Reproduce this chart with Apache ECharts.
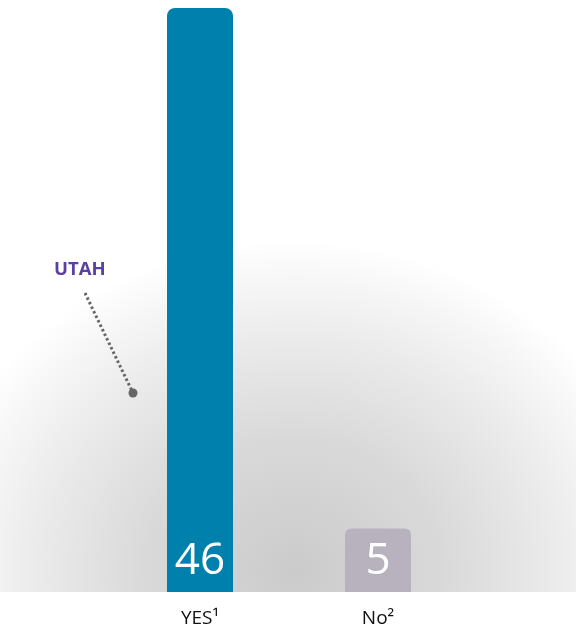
<!DOCTYPE html>
<html><head><meta charset="utf-8">
<script src="https://cdn.jsdelivr.net/npm/echarts@6/dist/echarts.min.js"></script>
<style>html,body{margin:0;padding:0;background:#fff}#c{width:576px;height:632px}</style>
</head><body><div id="c"></div>
<script>
const categories = ['YES¹', 'No²'];
const values = [46, 5];
const barColors = ['#0080AD', '#B8B2BF'];
const annotationLabel = 'UTAH';

const chart = echarts.init(document.getElementById('c'), null, {renderer: 'canvas'});
chart.setOption({
  backgroundColor: '#ffffff',
  animation: false,
  grid: {left: 111, right: 109, top: 8, bottom: 40},
  xAxis: {
    type: 'category', data: categories,
    axisLine: {show: false}, axisTick: {show: false},
    axisLabel: {color: '#111', fontSize: 19, fontFamily: 'Open Sans', margin: 17}
  },
  yAxis: {type: 'value', min: 0, max: 46, show: false, splitLine: {show: false}},
  graphic: [
    {type: 'group', z: -10, silent: true, x: 295, y: 0, scaleX: 1.12, scaleY: 1,
     children: [
       {type: 'rect', silent: true,
        shape: {x: -264, y: 180, width: 520, height: 412},
        style: {fill: {type: 'radial', x: 0, y: 570, r: 330, global: true,
          colorStops: [{offset: 0, color: '#cbcbcb'}, {offset: 0.4, color: '#d9d9d9'}, {offset: 0.72, color: '#ececec'}, {offset: 0.9, color: '#f8f8f8'}, {offset: 1, color: '#ffffff'}]}}}
     ]},
    {type: 'text', z: 100, left: 54, top: 260,
     style: {text: annotationLabel, fill: '#5A41A0', font: 'bold 18.5px "Open Sans"'}},
    {type: 'line', z: 100, shape: {x1: 85, y1: 293, x2: 132, y2: 391},
     style: {stroke: '#666', lineWidth: 3, lineDash: [2.5, 2.5]}},
    {type: 'circle', z: 100, shape: {cx: 133, cy: 393, r: 4.5}, style: {fill: '#666'}}
  ],
  series: [{
    type: 'bar', barWidth: 66,
    data: values.map((v, i) => ({value: v, itemStyle: {color: barColors[i], borderRadius: i === 0 ? [8, 8, 0, 0] : [6, 6, 0, 0]}})),
    label: {show: true, position: 'insideBottom', distance: 9, color: '#fff', fontSize: 44, fontFamily: 'Open Sans'}
  }]
});
</script></body></html>
